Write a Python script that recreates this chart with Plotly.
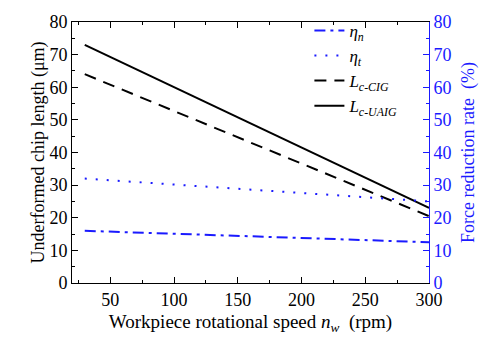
import plotly.graph_objects as go

speed = [30, 165, 300]
eta_n = [16.0, 14.3, 12.5]
eta_t = [32.0, 28.5, 25.0]
L_cig = [64.0, 42.3, 20.5]
L_uaig = [73.0, 48.0, 23.0]

FONT = "Liberation Serif"
BLUE = "#1a1aff"

fig = go.Figure()
fig.add_trace(go.Scatter(x=speed, y=eta_n, mode="lines", yaxis="y2",
                         name="<i>η</i><sub><i>n</i></sub>",
                         line=dict(color=BLUE, width=2, dash="11px,5px,3px,5px")))
fig.add_trace(go.Scatter(x=speed, y=eta_t, mode="lines", yaxis="y2",
                         name="<i>η</i><sub><i>t</i></sub>",
                         line=dict(color=BLUE, width=2, dash="2px,9px")))
fig.add_trace(go.Scatter(x=speed, y=L_cig, mode="lines",
                         name="<i>L</i><sub><i>c-CIG</i></sub>",
                         line=dict(color="black", width=2, dash="12px,8px")))
fig.add_trace(go.Scatter(x=speed, y=L_uaig, mode="lines",
                         name="<i>L</i><sub><i>c-UAIG</i></sub>",
                         line=dict(color="black", width=2)))

fig.update_layout(
    width=486, height=342,
    margin=dict(l=72, r=55, t=16, b=59),
    paper_bgcolor="white", plot_bgcolor="white",
    font=dict(family=FONT, size=18, color="black"),
    showlegend=True,
    legend=dict(x=0.665, y=1.035, xanchor="left", yanchor="top",
                bgcolor="rgba(0,0,0,0)", font=dict(family=FONT, size=17),
                tracegroupgap=0, itemwidth=30),
    xaxis=dict(range=[20, 300], tickvals=[50, 100, 150, 200, 250, 300],
               ticks="inside", ticklen=6, tickcolor="black",
               minor=dict(dtick=25, tick0=0, ticks="inside", ticklen=3, tickcolor="black"),
               showline=True, linecolor="black", linewidth=1, mirror="ticks",
               showgrid=False, zeroline=False,
               title=dict(text="Workpiece rotational speed <i>n</i><sub><i>w</i></sub>  (rpm)",
                          font=dict(size=19), standoff=6)),
    yaxis=dict(range=[0, 80], dtick=10, ticks="inside", ticklen=6, tickcolor="black",
               minor=dict(dtick=5, ticks="inside", ticklen=3, tickcolor="black"),
               showline=True, linecolor="black", linewidth=1,
               showgrid=False, zeroline=False,
               title=dict(text="Underformed chip length (μm)", font=dict(size=18), standoff=0)),
    yaxis2=dict(range=[0, 80], dtick=10, overlaying="y", side="right",
                ticks="inside", ticklen=6, tickcolor=BLUE,
                minor=dict(dtick=5, ticks="inside", ticklen=3, tickcolor=BLUE),
                showline=True, linecolor=BLUE, linewidth=1,
                showgrid=False, zeroline=False,
                tickfont=dict(color=BLUE),
                title=dict(text="Force reduction rate  (%)", font=dict(size=18, color=BLUE), standoff=10)),
)

fig.write_html("out.html")
